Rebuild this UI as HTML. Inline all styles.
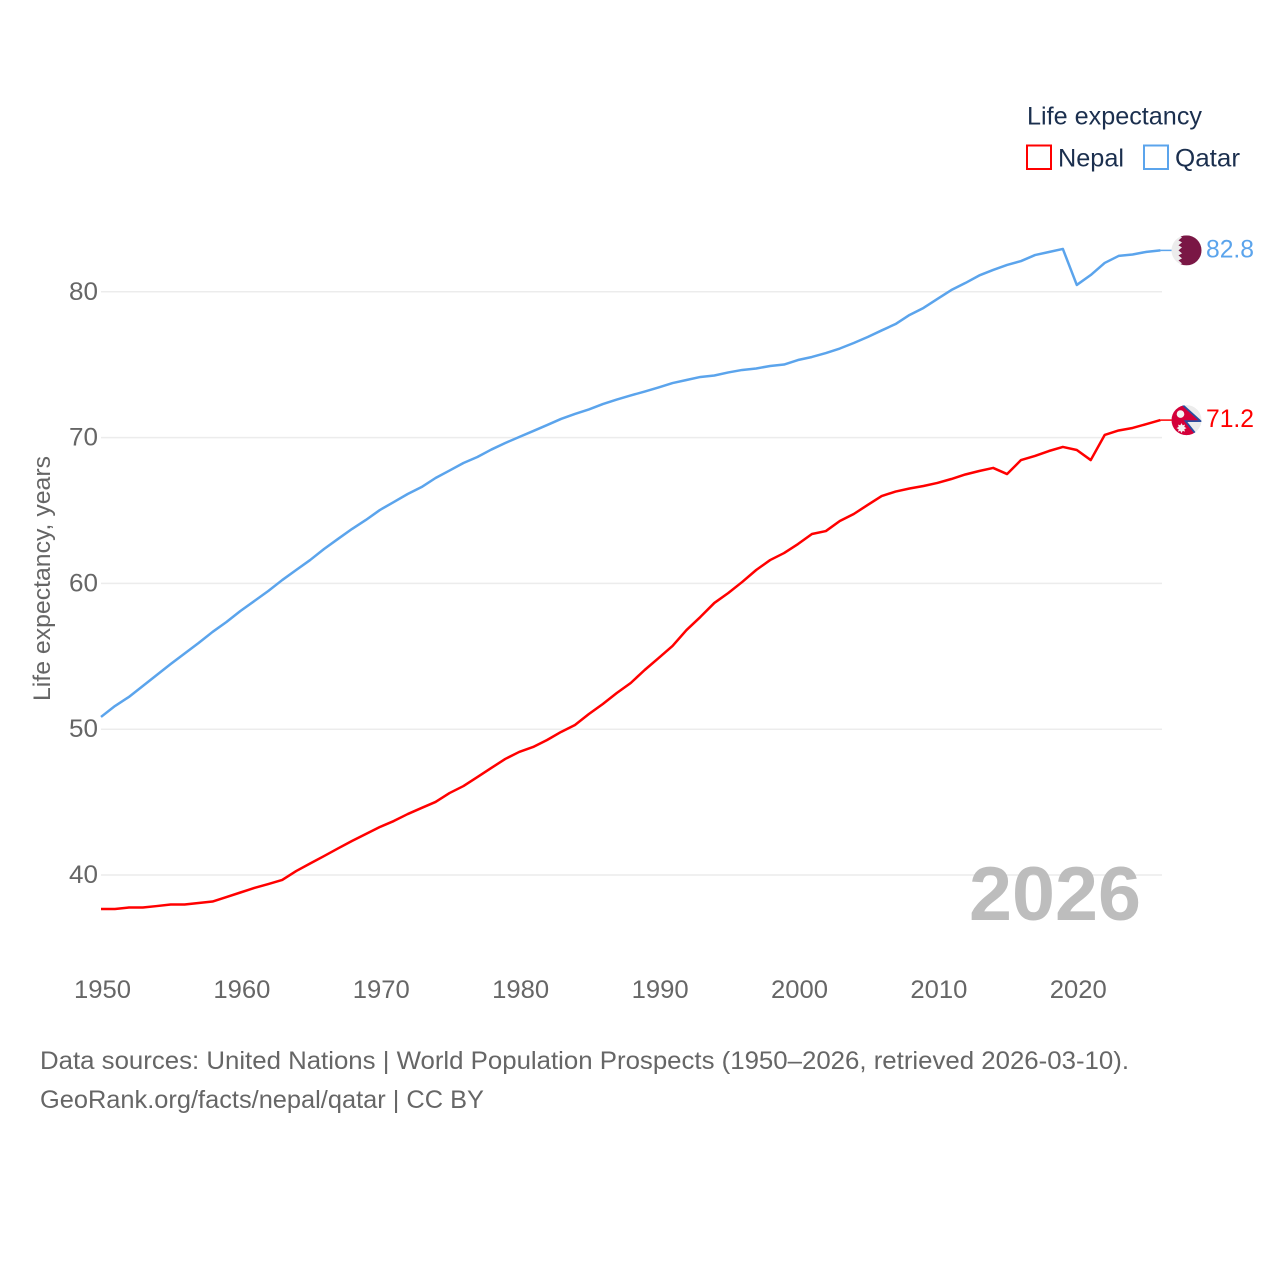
<!DOCTYPE html>
<html lang="en">
<head>
<meta charset="utf-8">
<title>Life expectancy: Nepal and Qatar</title>
<style>
html,body{margin:0;padding:0;background:#fff}
svg{display:block}
text{font-family:"Liberation Sans",sans-serif}
</style>
</head>
<body>
<svg id="chart" xmlns="http://www.w3.org/2000/svg" width="1280" height="1280" viewBox="0 0 1280 1280">
  <defs>
    <clipPath id="flag-clip"><circle cx="0" cy="0" r="15"></circle></clipPath>
  </defs>
  <rect x="0" y="0" width="1280" height="1280" fill="#fff"></rect>
  <g id="grid"></g>
  <g id="y-ticks"></g>
  <g id="x-ticks"></g>
  <text transform="translate(50,701) rotate(-90)" font-size="24" fill="#666" textLength="245" lengthAdjust="spacingAndGlyphs">Life expectancy, years</text>
  <text x="969" y="920" font-size="76" font-weight="700" fill="#bdbdbd" textLength="172" lengthAdjust="spacingAndGlyphs">2026</text>
  <g id="series"></g>

  <g>
    <text x="1027" y="124.500" font-size="25" fill="#1b2f4e" textLength="175" lengthAdjust="spacingAndGlyphs">Life expectancy</text>
    <rect x="1027" y="145.500" width="24" height="23.500" fill="none" stroke="#ff0000" stroke-width="2"></rect>
    <text x="1058" y="166.500" font-size="25" fill="#1b2f4e" textLength="66" lengthAdjust="spacingAndGlyphs">Nepal</text>
    <rect x="1144" y="145.500" width="24" height="23.500" fill="none" stroke="#5ba4ec" stroke-width="2"></rect>
    <text x="1175" y="166.500" font-size="25" fill="#1b2f4e" textLength="65" lengthAdjust="spacingAndGlyphs">Qatar</text>
  </g>

  <g id="flag-qatar">
    <g clip-path="url(#flag-clip)">
      <rect x="-15" y="-15" width="30" height="30" fill="#ececec"></rect>
      <path fill="#7a1745" d="M15,-15 L-8,-15 L-4.500,-13 L-8,-10 L-4.500,-8 L-8,-5 L-4.500,-3 L-8,0 L-4.500,3 L-8,5 L-4.500,8 L-8,10 L-4.500,13 L-8,15 L15,15 Z"></path>
    </g>
  </g>
  <g id="flag-nepal">
    <g clip-path="url(#flag-clip)">
      <rect x="-15" y="-15" width="30" height="30" fill="#ececec"></rect>
      <path fill="#d4003a" stroke="#2a4ea0" stroke-width="1.800" d="M-17,-27 L14,1 L-1,1 L11,16 L-17,16 Z"></path>
      <circle cx="-6" cy="-6" r="3.800" fill="#f4f4f4"></circle>
      <path fill="#f4f4f4" d="M-5,3 L-3.800,5.200 L-1.500,4.500 L-2.200,6.800 L0,8 L-2.200,9.200 L-1.500,11.500 L-3.800,10.800 L-5,13 L-6.200,10.800 L-8.500,11.500 L-7.800,9.200 L-10,8 L-7.800,6.800 L-8.500,4.500 L-6.200,5.200 Z"></path>
    </g>
  </g>
  <text id="label-qatar" x="1206" font-size="25" fill="#5ba4ec" textLength="48" lengthAdjust="spacingAndGlyphs"></text>
  <text id="label-nepal" x="1206" font-size="25" fill="#ff0000" textLength="48" lengthAdjust="spacingAndGlyphs"></text>

  <text x="40" y="1069" font-size="25" fill="#666" textLength="1089" lengthAdjust="spacingAndGlyphs">Data sources: United Nations | World Population Prospects (1950–2026, retrieved 2026-03-10).</text>
  <text x="40" y="1108" font-size="25" fill="#666" textLength="444" lengthAdjust="spacingAndGlyphs">GeoRank.org/facts/nepal/qatar | CC BY</text>
</svg>
<script>
const startYear = 1950;
const yTickValues = [40, 50, 60, 70, 80];
const xTickValues = [1950, 1960, 1970, 1980, 1990, 2000, 2010, 2020];
const nepalValues = [37.67,37.67,37.77,37.77,37.87,37.98,37.98,38.08,38.18,38.49,38.80,39.11,39.38,39.66,40.27,40.79,41.30,41.82,42.33,42.81,43.29,43.70,44.18,44.60,45.01,45.62,46.10,46.72,47.34,47.96,48.44,48.78,49.26,49.81,50.29,51.04,51.73,52.48,53.17,54.06,54.88,55.71,56.80,57.70,58.66,59.34,60.10,60.92,61.60,62.08,62.70,63.39,63.59,64.28,64.76,65.38,65.99,66.30,66.51,66.68,66.89,67.16,67.47,67.71,67.92,67.50,68.46,68.74,69.08,69.36,69.15,68.46,70.18,70.49,70.66,70.93,71.20];
const qatarValues = [50.84,51.59,52.21,52.96,53.72,54.47,55.19,55.91,56.67,57.35,58.11,58.79,59.48,60.23,60.92,61.60,62.36,63.05,63.73,64.35,65.03,65.58,66.13,66.61,67.23,67.74,68.26,68.67,69.18,69.63,70.04,70.45,70.86,71.28,71.62,71.93,72.30,72.61,72.89,73.16,73.44,73.74,73.95,74.16,74.26,74.47,74.64,74.74,74.91,75.01,75.32,75.53,75.80,76.11,76.49,76.90,77.35,77.79,78.41,78.89,79.51,80.12,80.60,81.12,81.50,81.84,82.11,82.52,82.73,82.94,80.47,81.15,81.98,82.46,82.56,82.74,82.84];

const SVG_NS = 'http://www.w3.org/2000/svg';
const xScale = function (year) { return 101 + (year - 1950) * 13.94; };
const yScale = function (value) { return 875 - (value - 40) * 14.58; };
const gridEnd = 1162;

function make(tag, parent) {
  const el = document.createElementNS(SVG_NS, tag);
  parent.appendChild(el);
  return el;
}

const gridGroup = document.getElementById('grid');
const yTickGroup = document.getElementById('y-ticks');
yTickValues.forEach(function (value) {
  const line = make('line', gridGroup);
  
  
  line.setAttribute('x1', 101);
  line.setAttribute('x2', gridEnd);
  line.setAttribute('y1', yScale(value));
  line.setAttribute('y2', yScale(value));
  line.setAttribute('stroke', '#ececec');
  line.setAttribute('stroke-width', '1.5');
  const label = make('text', yTickGroup);
  
  
  label.setAttribute('x', 98);
  label.setAttribute('y', yScale(value) + 8);
  label.setAttribute('text-anchor', 'end');
  label.setAttribute('font-size', '25');
  label.setAttribute('fill', '#666');
  label.setAttribute('textLength', '29');
  label.setAttribute('lengthAdjust', 'spacingAndGlyphs');
  label.textContent = String(value);
});

const xTickGroup = document.getElementById('x-ticks');
xTickValues.forEach(function (year) {
  const label = make('text', xTickGroup);
  
  
  label.setAttribute('x', xScale(year) + 1.5);
  label.setAttribute('y', 998);
  label.setAttribute('text-anchor', 'middle');
  label.setAttribute('font-size', '25');
  label.setAttribute('fill', '#666');
  label.setAttribute('textLength', '57');
  label.setAttribute('lengthAdjust', 'spacingAndGlyphs');
  label.textContent = String(year);
});

const seriesGroup = document.getElementById('series');
function drawSeries(values, color, name) {
  const points = values.map(function (value, i) {
    return xScale(startYear + i).toFixed(2) + ',' + yScale(value).toFixed(2);
  }).join(' ');
  const line = make('polyline', seriesGroup);
  
  
  line.setAttribute('points', points);
  line.setAttribute('fill', 'none');
  line.setAttribute('stroke', color);
  line.setAttribute('stroke-width', '2.500');
  line.setAttribute('stroke-linejoin', 'round');
  const lastY = yScale(values[values.length - 1]);
  const connector = make('line', seriesGroup);
  
  
  connector.setAttribute('x1', xScale(startYear + values.length - 1));
  connector.setAttribute('x2', 1172);
  connector.setAttribute('y1', lastY);
  connector.setAttribute('y2', lastY);
  connector.setAttribute('stroke', color);
  connector.setAttribute('stroke-width', '1.500');
  return lastY;
}
const nepalEndY = drawSeries(nepalValues, '#ff0000', 'nepal');
const qatarEndY = drawSeries(qatarValues, '#5ba4ec', 'qatar');

document.getElementById('flag-qatar').setAttribute('transform', 'translate(1186.500,' + qatarEndY + ')');
document.getElementById('flag-nepal').setAttribute('transform', 'translate(1186.500,' + nepalEndY + ')');

const qatarLabel = document.getElementById('label-qatar');
qatarLabel.setAttribute('y', qatarEndY + 7);
qatarLabel.textContent = qatarValues[qatarValues.length - 1].toFixed(1);
const nepalLabel = document.getElementById('label-nepal');
nepalLabel.setAttribute('y', nepalEndY + 7);
nepalLabel.textContent = nepalValues[nepalValues.length - 1].toFixed(1);
</script>
</body>
</html>
